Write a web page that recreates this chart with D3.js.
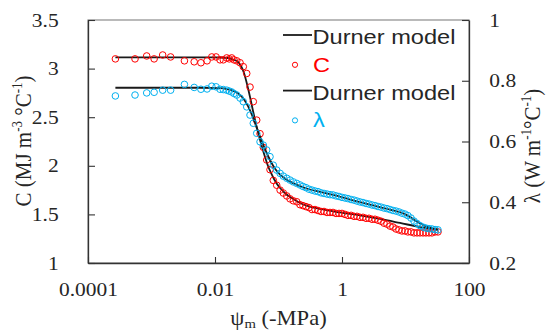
<!DOCTYPE html>
<html>
<head>
<meta charset="utf-8">
<script src="https://cdn.jsdelivr.net/npm/d3@7"></script>
<style>
  html, body { margin: 0; padding: 0; background: #fff; }
  svg { display: block; }
</style>
</head>
<body>
<div id="chart"></div>
<script>
// measured suction (-MPa), shared by both measured series
const psi = [0.00027, 0.00055, 0.00084, 0.0011, 0.0015, 0.0020, 0.0033, 0.0047, 0.0060, 0.0075, 0.0089, 0.0104,
  0.0120, 0.0135, 0.0153, 0.0168, 0.0183, 0.0199, 0.0220, 0.0248, 0.0279, 0.0316, 0.0356, 0.0401, 0.0454,
  0.0512, 0.0577, 0.0652, 0.0735, 0.0828, 0.0937, 0.106, 0.119, 0.135, 0.152, 0.171, 0.194, 0.218,
  0.243, 0.271, 0.302, 0.337, 0.376, 0.419, 0.467, 0.521, 0.581, 0.647, 0.722, 0.805, 0.897, 1.00,
  1.115, 1.24, 1.39, 1.55, 1.72, 1.92, 2.14, 2.39, 2.66, 2.97, 3.31, 3.69, 4.11, 4.58, 5.11, 5.70,
  6.35, 7.08, 7.90, 8.81, 9.82, 10.9, 12.2, 13.6, 15.2, 16.9, 18.9, 21.0, 23.4, 26.1, 29.2, 32.5];

// heat capacity C (MJ m-3 C-1)
const heatCap = [3.10, 3.10, 3.13, 3.10, 3.14, 3.12, 3.08, 3.07, 3.06, 3.08, 3.12, 3.12,
  3.09, 3.09, 3.11, 3.10, 3.11, 3.09, 3.08, 3.06, 3.02, 2.95, 2.81, 2.66, 2.47,
  2.33, 2.19, 2.06, 1.96, 1.85, 1.80, 1.75, 1.72, 1.69, 1.66, 1.64, 1.63, 1.60,
  1.59, 1.58, 1.57, 1.55, 1.55, 1.54, 1.53, 1.53, 1.52, 1.52, 1.52, 1.51, 1.51, 1.51,
  1.50, 1.49, 1.49, 1.48, 1.48, 1.47, 1.47, 1.46, 1.46, 1.45, 1.45, 1.44, 1.43, 1.41,
  1.40, 1.38, 1.37, 1.35, 1.34, 1.33, 1.33, 1.32, 1.32, 1.31, 1.31, 1.31, 1.31, 1.31, 1.31, 1.31, 1.32, 1.32];

// thermal conductivity lambda (W m-1 C-1)
const thermCond = [0.750, 0.753, 0.760, 0.762, 0.769, 0.769, 0.788, 0.778, 0.772, 0.773, 0.782, 0.780,
  0.772, 0.771, 0.769, 0.766, 0.763, 0.758, 0.753, 0.743, 0.731, 0.714, 0.687, 0.660, 0.627,
  0.599, 0.588, 0.572, 0.550, 0.522, 0.506, 0.495, 0.486, 0.479, 0.473, 0.467, 0.462, 0.457,
  0.452, 0.448, 0.443, 0.440, 0.437, 0.435, 0.431, 0.429, 0.427, 0.425, 0.424, 0.421, 0.419, 0.416,
  0.414, 0.412, 0.409, 0.407, 0.404, 0.401, 0.399, 0.396, 0.394, 0.391, 0.389, 0.386, 0.384, 0.381,
  0.379, 0.376, 0.373, 0.371, 0.368, 0.364, 0.361, 0.356, 0.348, 0.338, 0.330, 0.323, 0.318, 0.315,
  0.313, 0.312, 0.310, 0.309];

// Durner model curves
const modelCPsi = [0.00027, 0.0058, 0.0120, 0.0160, 0.0192, 0.0230, 0.0257, 0.0286, 0.0319, 0.0356, 0.0397,
  0.0442, 0.0493, 0.0550, 0.0613, 0.0684, 0.0762, 0.0850, 0.0947, 0.106, 0.126, 0.152, 0.182, 0.218,
  0.313, 0.451, 0.931, 1.92, 3.96, 8.19, 16.9, 32.5];
const modelC = [3.115, 3.115, 3.114, 3.109, 3.094, 3.068, 3.027, 2.955, 2.842, 2.708, 2.564,
  2.430, 2.307, 2.193, 2.091, 1.998, 1.926, 1.864, 1.813, 1.772, 1.720, 1.679, 1.648, 1.617,
  1.581, 1.556, 1.520, 1.489, 1.453, 1.412, 1.370, 1.340];
const modelLPsi = [0.00027, 0.0058, 0.0120, 0.0160, 0.0199, 0.0239, 0.0276, 0.0308, 0.0343, 0.0383, 0.0426,
  0.0475, 0.0530, 0.0591, 0.0659, 0.0735, 0.0819, 0.0913, 0.106, 0.126, 0.152, 0.218, 0.313, 0.451,
  0.722, 1.34, 2.76, 5.70, 9.82, 14.1, 20.3, 32.5];
const modelL = [0.777, 0.777, 0.776, 0.772, 0.766, 0.756, 0.743, 0.728, 0.710, 0.687, 0.661,
  0.634, 0.608, 0.583, 0.560, 0.539, 0.521, 0.506, 0.491, 0.478, 0.468, 0.453, 0.442, 0.434,
  0.424, 0.409, 0.392, 0.376, 0.361, 0.341, 0.322, 0.310];

// axes ticks
const xTicks = [0.0001, 0.01, 1, 100];
const xTickLabels = ['0.0001', '0.01', '1', '100'];
const cTicks = [1, 1.5, 2, 2.5, 3, 3.5];
const cTickLabels = ['1', '1.5', '2', '2.5', '3', '3.5'];
const lTicks = [0.2, 0.4, 0.6, 0.8, 1];
const lTickLabels = ['0.2', '0.4', '0.6', '0.8', '1'];

const legendItems = ['Durner model', 'C', 'Durner model', 'λ'];

const width = 548, height = 332;
const plot = {left: 88, right: 469, top: 20, bottom: 263};
const SX = 1.13; // picture is a bit wider than tall
const red = '#ff0000', blue = '#00b0f0', ink = '#262626';
const serif = '"Liberation Serif", "Times New Roman", serif';
const sans = '"Liberation Sans", Arial, sans-serif';

const svg = d3.select('#chart').append('svg')
  .attr('width', width)
  .attr('height', height);

const x = d3.scaleLog().domain([0.0001, 100]).range([plot.left, plot.right]);
const yC = d3.scaleLinear().domain([1, 3.5]).range([plot.bottom, plot.top]);
const yL = d3.scaleLinear().domain([0.2, 1]).range([plot.bottom, plot.top]);

// frame
svg.append('rect')
  .attr('x', plot.left).attr('y', plot.top)
  .attr('width', plot.right - plot.left).attr('height', plot.bottom - plot.top)
  .attr('fill', 'none').attr('stroke', '#8c8c8c').attr('stroke-width', 1.2);

function styleAxis(g) {
  g.select('.domain').attr('stroke', '#333').attr('stroke-width', 1.3).attr('fill', 'none');
  g.selectAll('.tick line').attr('stroke', '#333').attr('stroke-width', 1.1);
  g.selectAll('.tick text')
    .attr('fill', ink)
    .style('font-family', serif)
    .style('font-size', '19px')
    .attr('transform', `scale(${SX},1)`);
}

svg.append('g')
  .attr('transform', `translate(0,${plot.bottom})`)
  .call(d3.axisBottom(x).tickValues(xTicks).tickFormat((d, i) => xTickLabels[i])
    .tickSizeInner(-6).tickSizeOuter(0).tickPadding(20))
  .call(styleAxis);

svg.append('g')
  .attr('transform', `translate(${plot.left},0)`)
  .call(d3.axisLeft(yC).tickValues(cTicks).tickFormat((d, i) => cTickLabels[i])
    .tickSizeInner(-7).tickSizeOuter(0).tickPadding(26))
  .call(styleAxis);

svg.append('g')
  .attr('transform', `translate(${plot.right},0)`)
  .call(d3.axisRight(yL).tickValues(lTicks).tickFormat((d, i) => lTickLabels[i])
    .tickSizeInner(-7).tickSizeOuter(0).tickPadding(18))
  .call(styleAxis);

// series, drawn in Excel order
const lineC = d3.line().x(d => x(d[0])).y(d => yC(d[1])).curve(d3.curveMonotoneX);
const lineL = d3.line().x(d => x(d[0])).y(d => yL(d[1])).curve(d3.curveMonotoneX);

svg.append('path')
  .datum(d3.zip(modelCPsi, modelC))
  .attr('d', lineC)
  .attr('fill', 'none').attr('stroke', '#1a1a1a').attr('stroke-width', 1.8);

svg.append('g').selectAll('circle')
  .data(d3.zip(psi, heatCap))
  .join('circle')
  .attr('cx', d => x(d[0]))
  .attr('cy', d => yC(d[1]))
  .attr('r', 3.3)
  .attr('fill', 'none').attr('stroke', red).attr('stroke-width', 1);

svg.append('path')
  .datum(d3.zip(modelLPsi, modelL))
  .attr('d', lineL)
  .attr('fill', 'none').attr('stroke', '#1a1a1a').attr('stroke-width', 1.8);

svg.append('g').selectAll('circle')
  .data(d3.zip(psi, thermCond))
  .join('circle')
  .attr('cx', d => x(d[0]))
  .attr('cy', d => yL(d[1]))
  .attr('r', 3.3)
  .attr('fill', 'none').attr('stroke', blue).attr('stroke-width', 1);

// legend
const legend = svg.append('g').attr('transform', 'translate(283,37)');
const rowH = 27.8;
legendItems.forEach((label, i) => {
  const row = legend.append('g').attr('transform', `translate(0,${i * rowH})`);
  const isLine = i % 2 === 0;
  const color = isLine ? ink : (i === 1 ? red : blue);
  if (isLine) {
    row.append('line').attr('x1', 0).attr('x2', 29).attr('y1', -2).attr('y2', -2)
      .attr('stroke', '#1a1a1a').attr('stroke-width', 1.8);
  } else {
    row.append('circle').attr('cx', 12).attr('cy', 0).attr('r', 2.6)
      .attr('fill', 'none').attr('stroke', color).attr('stroke-width', 1);
  }
  row.append('text')
    .attr('transform', `translate(${isLine ? 29.5 : 30},0) scale(1.18,1)`)
    .attr('dy', '0.35em')
    .attr('fill', color)
    .style('font-family', sans)
    .style('font-size', '20px')
    .text(label);
});

// axis titles
const xTitle = svg.append('text')
  .attr('transform', `translate(${(plot.left + plot.right) / 2},325) scale(${SX},1)`)
  .attr('text-anchor', 'middle')
  .attr('fill', ink)
  .style('font-family', serif)
  .style('font-size', '20px');
xTitle.append('tspan').text('ψ');
xTitle.append('tspan').attr('dy', 3).style('font-size', '13px').text('m');
xTitle.append('tspan').attr('dy', -3).text(' (-MPa)');

// rotated titles; parts alternate normal text and superscripts
function yTitle(xPos, yPos, parts) {
  const t = svg.append('text')
    .attr('transform', `translate(${xPos},${yPos}) scale(${SX},1) rotate(-90)`)
    .attr('text-anchor', 'middle')
    .attr('fill', ink)
    .style('font-family', serif)
    .style('font-size', '21px');
  let shift = 0;
  parts.forEach(p => {
    const sup = p.sup !== undefined;
    const dy = sup ? -8 : -shift;
    shift = sup ? -8 : 0;
    const s = t.append('tspan').attr('dy', dy).text(sup ? p.sup : p.txt);
    if (sup) s.style('font-size', '13px');
  });
}

yTitle(31, 141, [{txt: 'C (MJ m'}, {sup: '-3'}, {txt: ' °C'}, {sup: '-1'}, {txt: ')'}]);
yTitle(540, 146, [{txt: 'λ (W m'}, {sup: '-1'}, {txt: '°C'}, {sup: '-1'}, {txt: ')'}]);
</script>
</body>
</html>
